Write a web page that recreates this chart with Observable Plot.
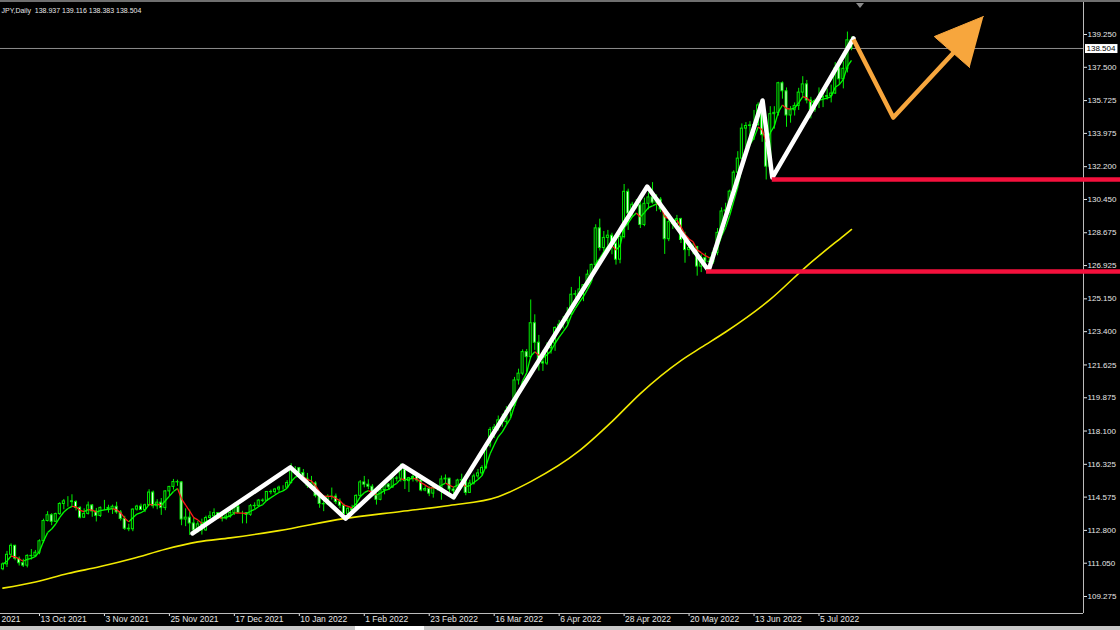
<!DOCTYPE html>
<html><head><meta charset="utf-8">
<script src="https://cdn.jsdelivr.net/npm/d3@7"></script>
<script src="https://cdn.jsdelivr.net/npm/@observablehq/plot@0.6"></script>
<style>
html,body{margin:0;padding:0;background:#000;width:1120px;height:630px;overflow:hidden;}
#wrap{position:relative;width:1120px;height:630px;}
#chart{position:absolute;left:0;top:0;}
#topbar{position:absolute;left:0;top:0;width:1120px;height:2px;background:#6f6f6f;}
#tri{position:absolute;left:856px;top:3px;width:0;height:0;border-left:4px solid transparent;border-right:4px solid transparent;border-top:5px solid #8a8a8a;}
#botbar{position:absolute;left:0;top:626px;width:1120px;height:4px;background:#c8c8c8;}
#tab{position:absolute;left:355px;top:626px;width:69px;height:4px;background:#fff;}
</style></head>
<body><div id="wrap"><div id="chart"></div><div id="topbar"></div><div id="tri"></div><div id="botbar"></div><div id="tab"></div></div>
<script>
// ---- data (daily candles, bar index 0..209) ----
const O = [110.73,110.99,111.50,111.98,111.29,111.05,110.92,111.44,111.42,111.61,
112.22,113.30,113.61,113.26,113.67,114.21,114.35,114.35,114.31,114.00,
113.48,113.68,114.13,113.81,113.57,114.00,114.00,113.95,114.06,113.76,
113.41,112.89,112.86,113.91,114.07,113.89,114.14,114.82,114.09,114.28,
113.99,114.88,115.12,115.38,115.36,113.38,113.48,113.17,112.80,113.12,
112.80,113.46,113.55,113.72,113.48,113.43,113.54,113.73,114.05,113.72,
113.72,113.63,114.09,114.11,114.39,114.38,114.85,114.84,114.98,115.08,
115.08,115.33,116.12,116.12,115.86,115.56,115.19,115.31,114.63,114.21,
114.19,114.59,114.60,114.31,114.12,113.68,113.95,113.86,114.64,115.36,
115.24,115.13,114.66,114.43,114.95,115.24,115.09,115.57,115.56,116.04,
115.43,115.59,115.65,115.46,114.93,115.01,114.76,115.07,115.01,115.52,
115.56,114.98,114.89,115.46,115.48,114.80,115.30,115.68,115.84,116.13,
117.32,118.16,118.28,118.67,118.58,119.17,119.45,120.80,121.16,122.31,
122.04,123.85,122.81,121.77,121.70,122.52,122.77,123.60,123.77,123.97,
124.32,125.37,125.40,125.65,125.88,126.44,126.96,128.91,127.86,128.40,
128.52,128.09,127.24,128.45,130.86,129.70,130.17,130.14,129.09,130.22,
130.56,130.28,130.44,129.92,128.33,129.24,129.13,129.40,128.29,127.75,
127.87,127.91,126.87,127.33,127.13,127.12,127.60,128.67,129.81,129.87,
130.87,131.88,132.63,134.23,134.37,134.40,134.42,135.47,133.88,132.20,
135.00,135.07,136.65,136.22,134.93,135.21,135.44,136.15,136.59,135.73,
135.22,135.70,135.89,135.92,135.97,136.10,137.44,136.86,137.42,138.937];
const H = [111.07,111.68,112.08,112.00,111.38,111.26,111.50,111.78,111.73,112.30,
113.40,113.80,113.69,113.72,114.28,114.45,114.60,114.70,114.38,114.06,
113.95,114.31,114.18,113.97,114.05,114.40,114.14,114.15,114.30,113.86,
113.55,113.13,113.95,114.14,114.20,114.20,114.97,114.90,114.44,114.50,
114.92,115.15,115.52,115.48,115.40,113.95,113.88,113.48,113.28,113.40,
113.56,113.80,113.95,113.75,113.62,113.70,113.88,114.25,114.25,113.82,
113.75,114.18,114.27,114.45,114.48,114.87,114.95,115.04,115.16,115.18,
115.46,116.35,116.20,116.13,116.05,115.84,115.68,115.40,114.69,114.45,
114.70,115.06,114.74,114.48,114.20,114.02,114.14,114.70,115.46,115.68,
115.50,115.24,114.77,115.10,115.32,115.30,115.62,115.68,116.34,116.08,
115.63,115.78,115.70,115.48,115.20,115.12,115.20,115.17,115.70,115.76,
115.58,115.10,115.53,115.80,115.60,115.48,115.80,116.05,116.25,117.35,
118.29,118.45,118.90,119.00,119.40,119.48,120.96,121.40,122.43,122.45,
125.09,124.30,123.20,122.40,122.80,122.85,123.65,124.00,124.20,124.68,
125.76,125.58,126.32,125.90,126.68,127.00,129.10,129.40,128.74,128.80,
128.65,128.40,128.60,131.25,131.00,130.30,130.45,130.38,130.52,130.80,
131.35,130.70,130.55,130.00,129.50,129.40,129.60,129.45,128.70,128.15,
128.10,127.95,127.50,127.58,127.35,127.85,128.90,130.00,130.25,130.95,
131.98,133.00,134.48,134.55,134.60,135.20,135.60,135.59,134.65,135.40,
135.40,136.70,136.72,136.40,135.40,135.60,136.38,137.00,136.80,135.90,
135.80,136.40,136.10,136.35,136.55,137.75,137.70,137.80,139.38,139.116];
const L = [110.65,110.82,111.38,111.18,110.90,110.82,110.80,111.22,111.35,111.50,
112.12,113.25,113.05,113.22,113.60,113.90,114.04,114.02,113.84,113.41,
113.44,113.62,113.50,113.25,113.49,113.85,113.72,113.65,113.66,113.30,
112.80,112.73,112.73,113.83,113.85,113.75,114.10,113.95,113.90,113.60,
113.85,114.60,114.95,115.15,113.05,113.00,112.53,112.65,112.65,112.55,
112.75,113.40,113.45,113.38,113.25,113.35,113.45,113.60,113.70,113.15,
113.15,113.55,113.93,114.03,114.28,114.35,114.70,114.73,114.80,114.95,
115.05,115.28,115.80,115.60,115.42,115.04,114.99,114.53,113.98,113.80,
114.12,114.42,114.18,113.96,113.63,113.47,113.64,113.80,114.58,115.07,
114.97,114.60,114.15,114.38,114.70,114.95,115.05,115.38,115.38,114.98,
114.82,115.38,115.34,114.86,114.86,114.60,114.52,114.90,114.41,115.30,
114.80,114.65,114.78,115.40,114.65,114.80,115.22,115.55,115.70,116.05,
117.20,117.70,118.10,118.30,118.45,118.85,119.40,120.55,121.05,121.20,
121.95,122.40,121.30,121.28,121.60,122.20,122.35,123.45,123.55,123.80,
124.25,124.90,125.10,125.00,125.80,126.30,126.90,127.70,127.48,127.95,
127.50,126.95,127.02,128.35,128.80,129.50,129.95,128.90,129.00,129.90,
130.20,129.80,129.75,127.52,128.20,128.85,128.90,128.10,127.05,127.40,
127.50,126.36,126.55,126.85,126.88,127.00,127.45,128.55,129.50,129.70,
130.80,131.70,132.55,133.20,133.40,133.60,134.35,133.50,131.49,131.80,
134.20,134.90,135.80,134.30,134.52,134.90,135.20,135.85,135.55,134.75,
135.10,135.30,135.35,135.75,135.60,136.05,136.55,136.35,137.20,138.383];
const C = [110.99,111.50,111.98,111.29,111.05,110.92,111.44,111.42,111.61,112.22,
113.30,113.61,113.26,113.67,114.21,114.35,114.35,114.31,114.00,113.48,
113.68,114.13,113.81,113.57,114.00,114.00,113.95,114.06,113.76,113.41,
112.89,112.86,113.91,114.07,113.89,114.14,114.82,114.09,114.28,113.99,
114.88,115.12,115.38,115.36,113.38,113.48,113.17,112.80,113.12,112.80,
113.46,113.55,113.72,113.48,113.43,113.54,113.73,114.05,113.72,113.72,
113.63,114.09,114.11,114.39,114.38,114.85,114.84,114.98,115.08,115.08,
115.33,116.12,116.12,115.86,115.56,115.19,115.31,114.63,114.21,114.19,
114.59,114.60,114.31,114.12,113.68,113.95,113.86,114.64,115.36,115.24,
115.13,114.66,114.43,114.95,115.24,115.09,115.57,115.56,116.04,115.43,
115.59,115.65,115.46,114.93,115.01,114.76,115.07,115.01,115.52,115.56,
114.98,114.89,115.46,115.48,114.80,115.30,115.68,115.84,116.13,117.32,
118.16,118.28,118.67,118.58,119.17,119.45,120.80,121.16,122.31,122.04,
123.85,122.81,121.77,121.70,122.52,122.77,123.60,123.77,123.97,124.32,
125.37,125.40,125.65,125.88,126.44,126.96,128.91,127.86,128.40,128.52,
128.09,127.24,128.45,130.86,129.70,130.17,130.14,129.09,130.22,130.56,
130.28,130.44,129.92,128.33,129.24,129.13,129.40,128.29,127.75,127.87,
127.91,126.87,127.33,127.13,127.12,127.60,128.67,129.81,129.87,130.87,
131.88,132.63,134.23,134.37,134.40,134.42,135.47,133.88,132.20,135.00,
135.07,136.65,136.22,134.93,135.21,135.44,136.15,136.59,135.73,135.22,
135.70,135.89,135.92,135.97,136.10,137.44,136.86,137.42,138.94,138.504];

// long moving average (yellow), read at bars
const smaBars   = [0, 8, 16, 24, 32, 40, 48, 56, 68, 84, 98, 110, 122, 130, 142, 150, 157, 167, 172, 178, 189, 198, 207, 209];
const smaValues = [109.72,110.05,110.50,110.87,111.30,111.80,112.19,112.40,112.79,113.43,113.81,114.13,114.60,115.40,117.05,118.60,120.10,121.86,122.56,123.38,125.12,126.90,128.50,128.85];

// hand-drawn white zigzag (bar, price)
const trendBars   = [46.7, 70.8, 84.4, 98.4, 111.0, 158.7, 173.8, 187.1, 189.5, 209.5];
const trendPrices = [112.64,116.16,113.43,116.26,114.56,131.14,126.66,135.73,131.62,139.04];

// red support levels
const levelPrices   = [131.52, 126.61];
const levelFromBars = [189.5, 173.3];

// orange projection and arrow head
const projBars   = [209.5, 219.3, 235.1];
const projPrices = [138.98, 134.82, 138.50];
const headBars   = [241.5, 229.4, 238.1];
const headPrices = [140.21, 139.14, 137.49];

// axes (the leftmost date label is only partly visible in the reference: "2021")
const priceTicks = [139.250,137.500,135.725,133.975,132.200,130.450,128.675,126.925,125.150,123.400,121.625,119.875,118.100,116.325,114.575,112.800,111.050,109.275];
const dateTickBars = [-7, 9, 25, 41, 57, 73, 89, 105, 121, 137, 153, 169, 185, 201];
const dateTickLabels = ["2021","13 Oct 2021","3 Nov 2021","25 Nov 2021","17 Dec 2021","10 Jan 2022","1 Feb 2022","23 Feb 2022","16 Mar 2022","6 Apr 2022","28 Apr 2022","20 May 2022","13 Jun 2022","5 Jul 2022"];
const lastPrice = 138.504;
const titleText = "JPY,Daily  138.937 139.116 138.383 138.504";

// ---- build tables ----
const candles = O.map((o,i)=>({i, o, h:H[i], l:L[i], c:C[i]}));
const bull = candles.filter(d=>d.c>=d.o), bear = candles.filter(d=>d.c<d.o);
// short EMA indicator (period 5) coloured by slope
const k = 2/(5+1); let ema = []; C.forEach((c,i)=>{ ema.push(i===0? c : ema[i-1] + k*(c-ema[i-1])); });
const maSeg = ema.slice(1).map((v,j)=>({x1:j, y1:ema[j], x2:j+1, y2:v, up: v>=ema[j]}));
const sma = smaBars.map((b,i)=>({b, v:smaValues[i]}));
const trend = trendBars.map((b,i)=>({b, p:trendPrices[i]}));
const levels = levelPrices.map((p,i)=>({p, from:levelFromBars[i]}));
const proj = projBars.map((b,i)=>({b, p:projPrices[i]}));
const head = headBars.map((b,i)=>({b, p:headPrices[i]}));
const dateTicks = dateTickBars.map((b,i)=>({b, t:dateTickLabels[i]})).filter(d => d.b >= 0);
const cutLabel = dateTickLabels[0];

const xDomain = [-0.6, 266.15];
const xEdge = 276;
const lime = "#00f000";

const chart = Plot.plot({
  width: 1120, height: 630,
  marginLeft: 0, marginRight: 37, marginTop: 0, marginBottom: 17,
  style: {background: "#000", color: "#e6e6e6", fontFamily: "'Liberation Sans', Arial, sans-serif", fontSize: "8px", overflow: "visible"},
  x: {domain: xDomain, ticks: dateTickBars, tickFormat: () => "", tickSize: 3, label: null},
  y: {domain: [108.368, 141.063], axis: "right", ticks: priceTicks, tickFormat: d3.format(".3f"), tickSize: 3, tickPadding: 1, label: null},
  marks: [
    Plot.ruleY([lastPrice], {stroke: "#8c8c8c", strokeWidth: 1}),
    Plot.ruleX([xDomain[1]], {stroke: "#bcbcbc", strokeWidth: 1}),
    Plot.ruleY([108.368], {stroke: "#bcbcbc", strokeWidth: 1}),
    Plot.line(sma, {x: "b", y: "v", stroke: "#f2ea00", strokeWidth: 1.6, curve: "monotone-x"}),
    Plot.ruleX(candles, {x: "i", y1: "l", y2: "h", stroke: lime, strokeWidth: 1}),
    Plot.rect(bull, {x1: d => d.i - 0.25, x2: d => d.i + 0.25, y1: "o", y2: "c", fill: "#000", stroke: lime, strokeWidth: 1}),
    Plot.rect(bear, {x1: d => d.i - 0.25, x2: d => d.i + 0.25, y1: "o", y2: "c", fill: "#ffffff", stroke: lime, strokeWidth: 1}),
    Plot.link(maSeg.filter(d => d.up), {x1: "x1", y1: "y1", x2: "x2", y2: "y2", stroke: "#00ff00", strokeWidth: 1.3}),
    Plot.link(maSeg.filter(d => !d.up), {x1: "x1", y1: "y1", x2: "x2", y2: "y2", stroke: "#ff1a1a", strokeWidth: 1.3}),
    Plot.line(trend, {x: "b", y: "p", stroke: "#ffffff", strokeWidth: 4.5, strokeLinecap: "round", strokeLinejoin: "round"}),
    Plot.ruleY(levels, {y: "p", x1: "from", x2: () => xEdge, stroke: "#f5103c", strokeWidth: 4.5, clip: false}),
    Plot.line(proj, {x: "b", y: "p", stroke: "#f7a63d", strokeWidth: 4.5, strokeLinejoin: "round", strokeLinecap: "butt"}),
    Plot.line(head, {x: "b", y: "p", fill: "#f7a63d", stroke: "#f7a63d", strokeWidth: 1}),
    Plot.text(dateTicks, {x: "b", text: "t", frameAnchor: "bottom", dy: 8, dx: 1, textAnchor: "start", fill: "#e6e6e6", fontSize: 8.5}),
    Plot.text([cutLabel], {text: d => d, frameAnchor: "bottom-left", dy: 8, dx: 1, textAnchor: "start", fill: "#e6e6e6", fontSize: 8.5}),
    Plot.text([lastPrice], {y: d => d, text: d => d3.format(".3f")(d), frameAnchor: "right", dx: 3, textAnchor: "start", fill: "#000", fontSize: 8}),
    Plot.text([titleText], {text: d => d, frameAnchor: "top-left", dx: 1, dy: 8, textAnchor: "start", fill: "#e6e6e6", fontSize: 7})
  ]
});
document.getElementById("chart").append(chart);

// white box behind the current-price label
chart.querySelectorAll("text").forEach(t => {
  if (t.textContent === d3.format(".3f")(lastPrice)) {
    const b = t.getBBox();
    const r = document.createElementNS("http://www.w3.org/2000/svg", "rect");
    r.setAttribute("x", b.x - 2); r.setAttribute("y", b.y - 0.5);
    r.setAttribute("width", b.width + 4); r.setAttribute("height", b.height + 1);
    r.setAttribute("fill", "#ffffff"); r.setAttribute("stroke", "#000");
    if (t.getAttribute("transform")) r.setAttribute("transform", t.getAttribute("transform"));
    t.parentNode.insertBefore(r, t);
  }
});
</script>
</body></html>
